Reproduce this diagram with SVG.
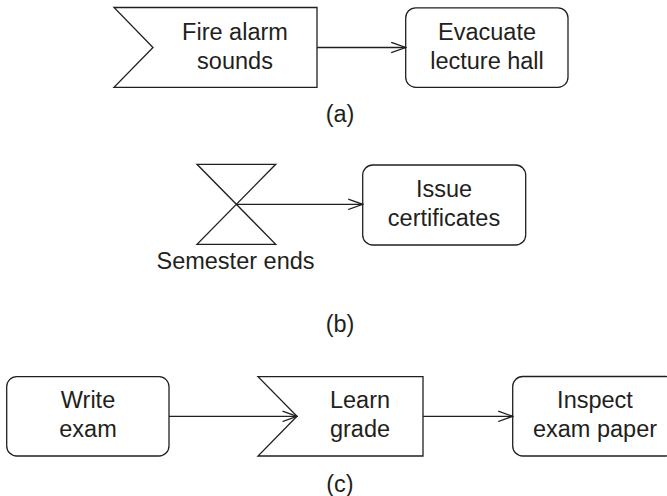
<svg xmlns="http://www.w3.org/2000/svg" width="667" height="496" viewBox="0 0 667 496">
<defs>
<style>
.s{fill:#fff;stroke:#231f20;stroke-width:1.3;stroke-linejoin:miter}
.t{font-family:"Liberation Sans",Arial,sans-serif;font-size:23.5px;fill:#231f20;text-anchor:middle}
.c{fill:none;stroke:#231f20;stroke-width:1.3}
</style>
<marker id="arr" markerWidth="16" markerHeight="12" refX="15" refY="6" orient="auto" markerUnits="userSpaceOnUse">
<path d="M0.5,0.8 L15,6 L0.5,11.2" fill="none" stroke="#231f20" stroke-width="1.3"/>
</marker>
</defs>
<rect width="667" height="496" fill="#fff"/>

<g id="fire-alarm">
<path class="s" d="M114,7.5 L317,7.5 L317,87.3 L114,87.3 L153,47.5 Z"/>
<text class="t" x="235" y="39.5">Fire alarm</text>
<text class="t" x="235" y="68.5">sounds</text>
</g>
<g id="evacuate">
<rect class="s" x="405.7" y="7.8" width="162.3" height="79.5" rx="10"/>
<text class="t" x="487" y="40">Evacuate</text>
<text class="t" x="487" y="69">lecture hall</text>
</g>
<text id="label-a" class="t" x="340" y="121.5">(a)</text>

<g id="semester-ends">
<path class="s" d="M197,164.3 L275.7,164.3 L197,244.3 L275.7,244.3 Z"/>
<text class="t" x="235.5" y="269.3">Semester ends</text>
</g>
<g id="issue-certificates">
<rect class="s" x="362.7" y="165" width="163" height="80" rx="10"/>
<text class="t" x="444" y="197">Issue</text>
<text class="t" x="444" y="226">certificates</text>
</g>
<text id="label-b" class="t" x="340" y="331.7">(b)</text>

<g id="write-exam">
<rect class="s" x="6.7" y="376.7" width="162.3" height="79.3" rx="10"/>
<text class="t" x="88" y="408">Write</text>
<text class="t" x="88" y="437">exam</text>
</g>
<g id="learn-grade">
<path class="s" d="M258,376.7 L423,376.7 L423,456 L258,456 L297,416.3 Z"/>
<text class="t" x="360" y="408">Learn</text>
<text class="t" x="360" y="437">grade</text>
</g>
<g id="inspect">
<rect class="s" x="512.7" y="376.5" width="163" height="79.5" rx="10"/>
<text class="t" x="595" y="408">Inspect</text>
<text class="t" x="595" y="437">exam paper</text>
</g>
<text id="label-c" class="t" x="340" y="491.5">(c)</text>

<g id="connectors">
<line class="c" x1="317" y1="47.5" x2="405.7" y2="47.5" marker-end="url(#arr)"/>
<line class="c" x1="236.3" y1="204.3" x2="362.7" y2="204.3" marker-end="url(#arr)"/>
<line class="c" x1="169" y1="416.3" x2="297" y2="416.3" marker-end="url(#arr)"/>
<line class="c" x1="423" y1="416.3" x2="512.7" y2="416.3" marker-end="url(#arr)"/>
</g>
</svg>
